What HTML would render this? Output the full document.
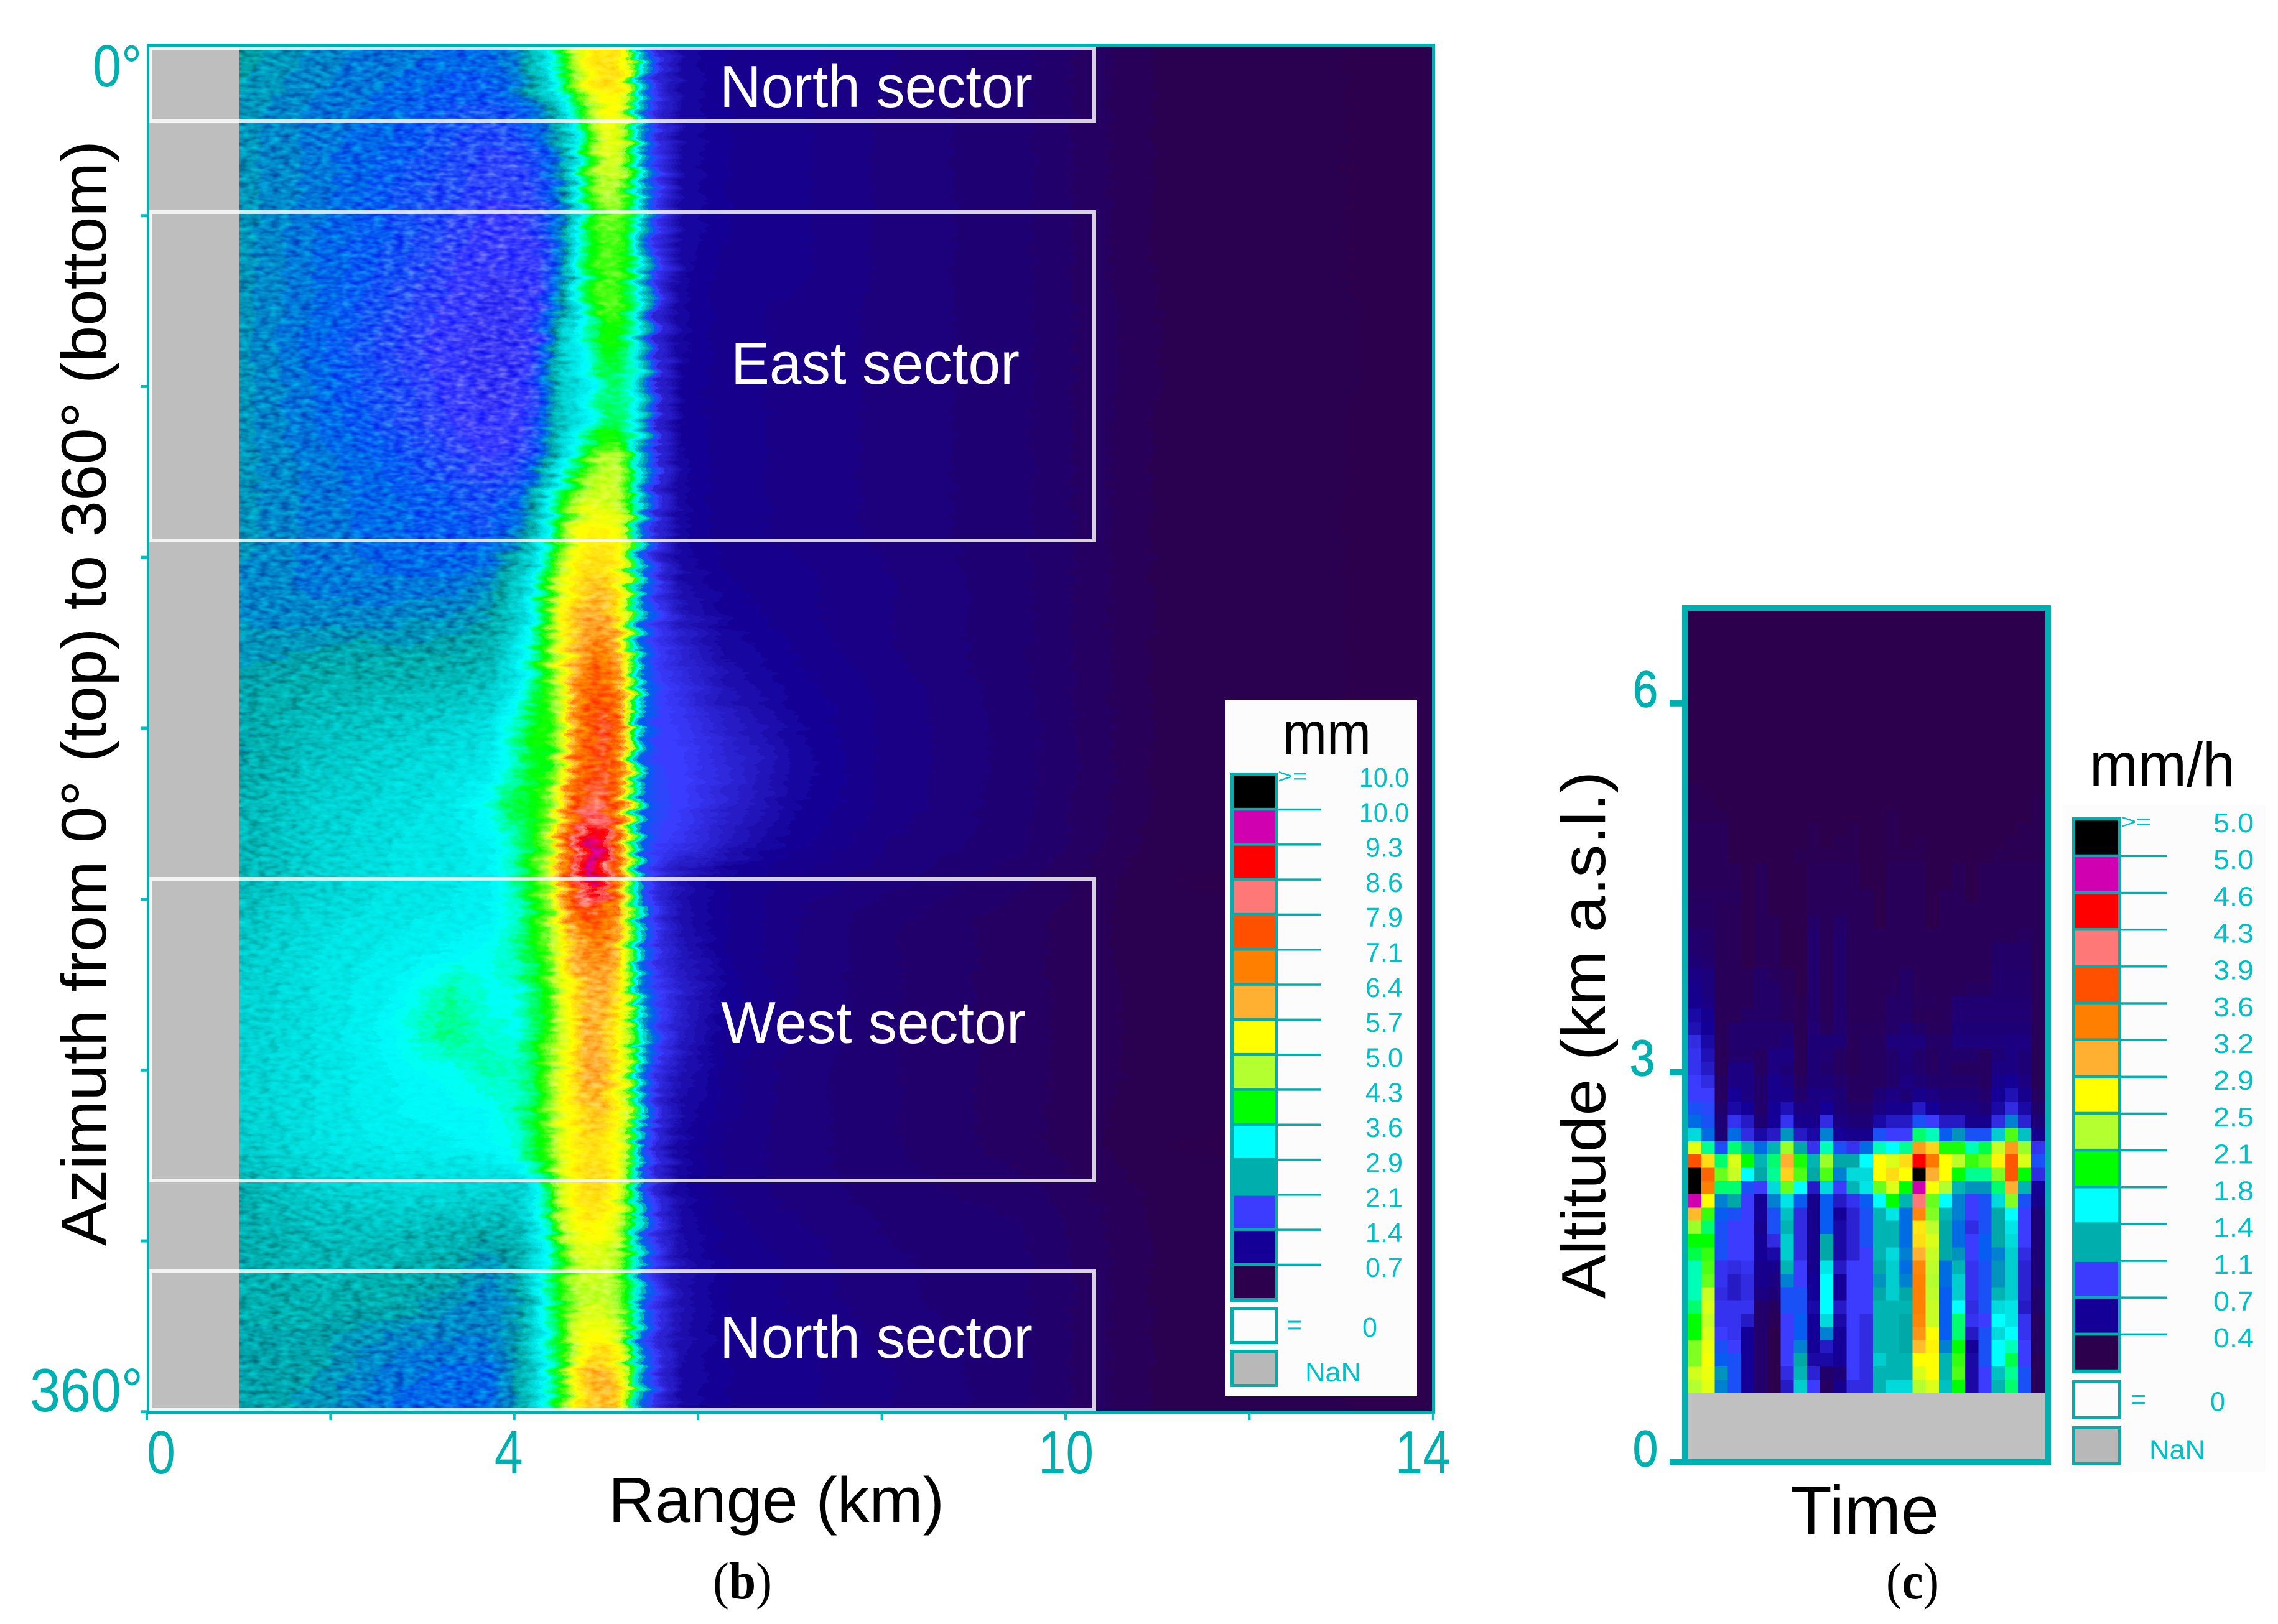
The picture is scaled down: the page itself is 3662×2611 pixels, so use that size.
<!DOCTYPE html>
<html lang="en">
<head>
<meta charset="utf-8">
<title>Rain radar azimuth-range and time-altitude plots</title>
<style>
html,body{margin:0;padding:0;background:#fff;}
svg{display:block;}
text{font-family:"Liberation Sans",sans-serif;}
.serif{font-family:"Liberation Serif",serif;}
</style>
</head>
<body>
<svg id="figure" xmlns="http://www.w3.org/2000/svg" width="3662" height="2611" viewBox="0 0 3662 2611">
<defs>
<clipPath id="plotBClip"><rect x="236" y="72" width="2068" height="2199"/></clipPath>
<filter id="radarTexture" filterUnits="userSpaceOnUse" x="200" y="30" width="2150" height="2290" color-interpolation-filters="sRGB">
<feTurbulence type="fractalNoise" baseFrequency="0.01 0.08" numOctaves="3" seed="7" result="warp"/>
<feDisplacementMap in="SourceGraphic" in2="warp" scale="40" xChannelSelector="R" yChannelSelector="G" result="jagged"/>
<feTurbulence type="fractalNoise" baseFrequency="0.06 0.14" numOctaves="2" seed="3" result="grain"/>
<feColorMatrix in="grain" type="matrix" x="200" y="30" width="810" height="2290" values="1.3 0 0 0 -0.15 1.3 0 0 0 -0.15 1.3 0 0 0 -0.15 0 0 0 0 1" result="greyGrain"/>
<feBlend in="greyGrain" in2="jagged" mode="soft-light"/>
</filter>
</defs>
<rect x="0" y="0" width="3662" height="2611" fill="#ffffff"/>
<g clip-path="url(#plotBClip)">
<g id="heatB" shape-rendering="crispEdges" filter="url(#radarTexture)"></g>
</g>
<rect x="236" y="72" width="149" height="2199" fill="#bebebe"/>
<g id="sectors" fill="none" stroke="#ffffff" stroke-opacity="0.82" stroke-width="6">
<rect x="241" y="77" width="1518" height="117"/>
<rect x="241" y="341" width="1518" height="528"/>
<rect x="241" y="1413" width="1518" height="485"/>
<rect x="241" y="2044" width="1518" height="222"/>
</g>
<text x="1157" y="172" font-size="96" fill="#fff" textLength="503" lengthAdjust="spacingAndGlyphs">North sector</text>
<text x="1175" y="617" font-size="96" fill="#fff" textLength="464" lengthAdjust="spacingAndGlyphs">East sector</text>
<text x="1159" y="1677" font-size="96" fill="#fff" textLength="490" lengthAdjust="spacingAndGlyphs">West sector</text>
<text x="1157" y="2183" font-size="96" fill="#fff" textLength="503" lengthAdjust="spacingAndGlyphs">North sector</text>
<g id="axesB"></g>
<rect x="1970" y="1125" width="308" height="1120" fill="#fcfcfc"/>
<text x="2062" y="1213" font-size="98" fill="#000" textLength="142" lengthAdjust="spacingAndGlyphs">mm</text>
<g id="legendB"></g>
<g id="heatC" shape-rendering="crispEdges"></g>
<rect x="2714" y="2240" width="573" height="106" fill="#c0c0c0"/>
<g id="axesC"></g>
<text x="3359" y="1264" font-size="100" fill="#000" textLength="234" lengthAdjust="spacingAndGlyphs">mm/h</text>
<rect x="3317" y="1294" width="325" height="1072" fill="#fcfcfc"/>
<g id="legendC"></g>
<text transform="translate(170,2003) rotate(-90)" x="0" y="0" font-size="102" fill="#000" textLength="1777" lengthAdjust="spacingAndGlyphs">Azimuth from 0° (top) to 360° (bottom)</text>
<text x="978" y="2447" font-size="103" fill="#000" textLength="540" lengthAdjust="spacingAndGlyphs">Range (km)</text>
<text transform="translate(2580,2088) rotate(-90)" x="0" y="0" font-size="100" fill="#000" textLength="848" lengthAdjust="spacingAndGlyphs">Altitude (km a.s.l.)</text>
<text x="2878" y="2466" font-size="110" fill="#000" textLength="239" lengthAdjust="spacingAndGlyphs">Time</text>
<text class="serif" x="1146" y="2570" font-size="84" fill="#000" textLength="95" lengthAdjust="spacingAndGlyphs">(<tspan font-weight="bold">b</tspan>)</text>
<text class="serif" x="3032" y="2570" font-size="84" fill="#000" textLength="85" lengthAdjust="spacingAndGlyphs">(<tspan font-weight="bold">c</tspan>)</text>
</svg>
<script>
// ---------- shared colour ramp ----------
const rampColors = [[44,0,76],[20,0,150],[60,60,255],[0,96,240],[0,168,168],[0,255,255],[0,255,0],[180,255,48],[255,255,0],[255,176,48],[255,127,0],[255,80,0],[255,120,120],[255,0,0],[208,0,176],[0,0,0]];
const rampStopsB = [0.35,1.05,1.75,2.12,2.5,3.25,3.95,4.65,5.35,6.05,6.75,7.5,8.25,8.95,9.65,10.3];
const rampStopsC = [0.2,0.55,0.9,1.07,1.25,1.6,1.95,2.3,2.7,3.05,3.4,3.75,4.1,4.45,4.8,5.2];
const legendColors = ['#000000','#d000b0','#ff0000','#ff7878','#ff5000','#ff7f00','#ffb030','#ffff00','#b4ff30','#00ff00','#00ffff','#00aeae','#3c3cff','#140096','#2c004c'];

// ---------- panel (b) data: rain depth (mm) by azimuth (rows) and range (columns) ----------
const rangeKm = [1.0,1.8,2.6,3.3,3.7,4.0,4.2,4.35,4.5,4.65,4.8,4.95,5.1,5.2,5.3,5.4,5.55,5.8,6.3,7,8,9.5,11,14];
const azimuthDeg = [0,10,20,30,40,50,60,70,80,90,100,110,120,130,140,150,160,170,180,190,200,210,220,230,240,250,260,270,280,290,300,310,320,330,340,350,360];
const depthMm = [
[2.5,2.35,2.25,2.2,2.2,2.3,2.8,3.2,3.9,5.0,5.5,5.5,5.6,5.3,3.4,2.3,1.5,1.15,1.0,.95,.85,.7,.42,.33],
[2.45,2.3,2.2,2.1,2.1,2.25,2.6,3.0,3.6,4.6,5.4,5.6,5.6,5.1,3.4,2.3,1.5,1.15,1.0,.95,.85,.7,.42,.33],
[2.4,2.25,2.15,2.0,1.95,2.0,2.15,2.3,2.7,3.3,4.4,5.2,5.2,4.6,3.4,2.3,1.55,1.15,1.0,.95,.82,.7,.42,.33],
[2.4,2.25,2.1,1.95,1.85,1.85,1.95,2.1,2.4,3.2,4.2,5.0,5.0,4.4,3.4,2.3,1.6,1.15,1.0,.95,.82,.7,.42,.33],
[2.4,2.25,2.05,1.9,1.8,1.8,1.85,2.0,2.3,3.1,4.0,4.6,4.6,4.1,3.4,2.4,1.6,1.15,1.0,.95,.82,.7,.42,.33],
[2.4,2.2,2.05,1.85,1.75,1.75,1.8,1.95,2.3,3.1,3.9,4.2,4.2,4.0,3.4,2.5,1.6,1.15,1.0,.95,.82,.7,.42,.33],
[2.4,2.2,2.0,1.8,1.72,1.72,1.75,1.95,2.3,3.1,3.8,4.2,4.2,3.9,3.4,2.6,1.6,1.1,.95,.95,.82,.7,.42,.33],
[2.4,2.2,1.95,1.75,1.7,1.7,1.75,2.0,2.5,3.1,3.7,4.2,4.2,3.8,3.4,2.6,1.5,1.1,.95,.9,.82,.7,.44,.33],
[2.4,2.15,1.9,1.72,1.7,1.7,1.8,2.2,2.9,3.1,3.4,3.9,3.9,3.6,3.3,2.6,1.5,1.1,.95,.9,.82,.7,.44,.33],
[2.4,2.2,1.95,1.75,1.7,1.72,1.85,2.3,2.8,3.0,3.2,3.6,3.6,3.5,3.3,2.6,1.5,1.05,.95,.9,.82,.7,.44,.33],
[2.4,2.2,2.0,1.8,1.72,1.75,1.9,2.3,2.8,3.0,3.3,3.7,3.7,3.5,3.2,2.5,1.5,1.05,.95,.9,.82,.7,.42,.33],
[2.4,2.25,2.1,1.9,1.8,1.85,2.05,2.5,3.0,3.5,4.3,4.8,4.7,4.2,3.3,2.4,1.5,1.1,.95,.9,.82,.7,.42,.33],
[2.4,2.25,2.15,2.05,2.0,2.1,2.6,3.2,3.8,4.6,5.1,5.0,4.9,4.3,3.3,2.3,1.5,1.1,.95,.9,.82,.7,.42,.33],
[2.4,2.25,2.15,2.05,2.05,2.3,2.8,3.3,4.3,5.3,5.5,5.5,5.4,4.8,3.3,2.2,1.5,1.1,.95,.9,.82,.7,.42,.33],
[2.35,2.25,2.2,2.2,2.3,2.7,3.1,3.9,5.0,5.5,5.7,5.7,5.5,4.8,3.3,2.2,1.55,1.15,1.0,.95,.85,.7,.42,.33],
[2.35,2.3,2.3,2.35,2.45,2.8,3.3,4.1,5.4,5.8,6.1,6.1,5.6,4.8,3.3,2.2,1.7,1.3,1.05,.95,.85,.7,.42,.33],
[2.4,2.45,2.5,2.5,2.6,3.0,3.4,4.2,5.4,6.0,6.7,6.7,6.0,5.0,3.4,2.2,1.7,1.45,1.15,1.0,.85,.7,.42,.33],
[2.5,2.6,2.65,2.7,2.8,3.1,3.6,4.2,5.0,6.5,7.3,7.3,6.8,5.3,3.5,2.2,1.75,1.6,1.25,1.05,.9,.7,.42,.33],
[2.5,2.7,2.8,2.9,3.0,3.5,4.0,4.0,4.8,6.4,7.3,7.9,7.2,5.6,3.5,2.2,1.8,1.7,1.4,1.1,.9,.72,.42,.33],
[2.5,2.75,2.9,3.0,3.05,3.4,3.9,3.9,5.0,6.8,7.4,7.7,7.0,5.4,3.4,2.1,1.8,1.75,1.5,1.15,.9,.72,.42,.33],
[2.6,2.85,2.95,3.05,3.3,3.85,3.9,4.4,5.6,7.2,7.9,8.0,7.0,5.4,3.4,2.1,1.85,1.75,1.45,1.1,.9,.7,.42,.33],
[2.6,2.85,3.0,3.05,3.15,3.4,3.9,4.6,6.4,8.4,9.6,9.2,7.2,5.2,3.4,2.1,1.8,1.65,1.3,1.05,.85,.7,.4,.33],
[2.6,2.85,3.0,3.05,3.15,3.45,4.0,4.6,6.4,8.4,9.6,8.6,7.0,5.1,3.4,2.0,1.55,1.2,1.0,.9,.8,.62,.36,.33],
[2.75,2.95,3.05,3.1,3.15,3.4,3.95,4.4,5.6,6.8,7.3,7.2,6.4,5.0,3.4,2.0,1.5,1.2,1.0,.85,.7,.55,.38,.33],
[2.8,3.0,3.1,3.2,3.3,3.45,3.85,4.3,5.3,6.0,6.5,6.5,5.9,5.0,3.5,2.2,1.6,1.3,1.0,.85,.7,.55,.38,.33],
[2.85,3.0,3.15,3.5,3.3,3.3,3.7,4.1,5.1,5.6,6.0,6.0,5.6,4.9,3.5,2.3,1.75,1.4,1.05,.85,.7,.55,.4,.33],
[2.85,3.0,3.2,3.6,3.35,3.3,3.7,4.1,4.9,5.5,6.1,5.9,5.5,4.9,3.6,2.4,1.7,1.35,1.0,.85,.7,.55,.4,.33],
[2.85,3.0,3.15,3.3,3.45,3.4,3.7,4.3,5.2,5.8,6.2,6.0,5.5,4.9,3.5,2.3,1.6,1.25,.95,.8,.7,.55,.4,.33],
[2.85,3.0,3.15,3.2,3.25,3.4,3.7,4.4,5.2,5.5,5.8,5.9,5.4,4.8,3.4,2.2,1.5,1.15,.95,.8,.7,.55,.38,.33],
[2.8,3.0,3.1,3.15,3.2,3.35,3.9,4.2,5.1,5.5,5.6,5.5,5.3,4.7,3.4,2.1,1.5,1.1,.9,.8,.7,.55,.36,.33],
[2.6,2.85,2.95,2.95,2.95,2.9,3.1,3.8,5.0,5.5,5.7,5.7,5.3,4.5,3.4,2.1,1.5,1.1,.9,.8,.72,.62,.4,.33],
[2.55,2.7,2.75,2.7,2.65,2.7,3.1,3.5,4.8,5.3,5.5,5.4,5.1,4.3,3.3,2.1,1.5,1.15,.95,.85,.75,.68,.42,.33],
[2.5,2.65,2.6,2.55,2.4,2.5,3.0,3.3,3.9,4.8,5.0,4.9,4.7,3.9,3.3,2.2,1.6,1.2,1.0,.9,.78,.7,.42,.33],
[2.55,2.6,2.55,2.4,2.3,2.4,2.9,3.5,4.1,4.7,4.8,4.8,4.5,3.9,3.3,2.2,1.6,1.2,1.0,.9,.78,.7,.42,.33],
[2.5,2.5,2.35,2.3,2.3,2.45,3.0,3.4,3.9,5.0,5.4,5.3,5.1,4.3,3.3,2.2,1.55,1.2,1.0,.95,.82,.7,.42,.33],
[2.5,2.45,2.25,2.15,2.15,2.4,2.8,3.3,4.0,5.4,5.9,6.0,5.7,4.8,3.2,2.2,1.55,1.15,1.0,.95,.85,.7,.42,.33],
[2.5,2.4,2.2,2.1,2.15,2.4,2.9,3.4,4.3,5.5,5.8,5.9,5.8,4.8,3.2,2.2,1.5,1.15,1.0,.95,.85,.7,.42,.33]
];
const xTickKm = [0,2,4,6,8,10,12,14];
const xTickLabels = {0:'0',4:'4',10:'10',14:'14'};
const yTickDeg = [45,90,135,180,225,270,315,360];
const legendBLabels = ['10.0','10.0','9.3','8.6','7.9','7.1','6.4','5.7','5.0','4.3','3.6','2.9','2.1','1.4','0.7'];

// ---------- panel (c) data: rain rate (mm/h), rows top to bottom, columns = time steps ----------
const rateMmH = [
[.2,.2,.2,.2,.2,.2,.2,.2,.2,.2,.2,.2,.2,.2,.2,.2,.2,.2,.2,.2,.2,.2,.2,.2,.2,.2,.2],
[.2,.2,.2,.2,.2,.2,.2,.2,.2,.2,.2,.2,.2,.2,.2,.2,.2,.2,.2,.2,.2,.2,.2,.2,.2,.2,.2],
[.2,.2,.2,.2,.2,.2,.2,.2,.2,.2,.2,.2,.2,.2,.2,.2,.2,.2,.2,.2,.2,.2,.2,.2,.2,.2,.2],
[.2,.2,.2,.2,.2,.2,.2,.2,.2,.2,.2,.2,.2,.2,.2,.2,.2,.2,.2,.2,.2,.2,.2,.2,.2,.2,.2],
[.2,.2,.2,.2,.2,.2,.2,.2,.2,.2,.2,.2,.2,.2,.2,.2,.2,.2,.2,.2,.2,.2,.2,.2,.2,.2,.2],
[.2,.2,.2,.2,.2,.2,.2,.2,.2,.2,.2,.2,.2,.2,.2,.2,.2,.2,.2,.2,.2,.2,.2,.2,.2,.2,.2],
[.2,.2,.2,.2,.2,.2,.2,.2,.2,.2,.2,.2,.2,.2,.2,.2,.2,.2,.2,.2,.2,.2,.2,.2,.2,.2,.2],
[.2,.2,.2,.2,.2,.2,.2,.2,.2,.2,.2,.2,.2,.2,.2,.2,.2,.2,.2,.2,.2,.2,.2,.2,.2,.2,.2],
[.2,.2,.2,.2,.2,.2,.2,.2,.2,.2,.2,.2,.2,.2,.2,.2,.2,.2,.2,.2,.2,.2,.2,.2,.2,.2,.2],
[.2,.2,.2,.2,.2,.2,.2,.2,.2,.2,.2,.2,.2,.2,.2,.2,.2,.2,.2,.2,.2,.2,.2,.2,.2,.2,.2],
[.2,.2,.2,.2,.2,.2,.2,.2,.2,.2,.2,.2,.2,.2,.2,.2,.2,.2,.2,.2,.2,.2,.2,.2,.2,.2,.2],
[.2,.2,.2,.2,.2,.2,.2,.2,.2,.2,.2,.2,.2,.2,.2,.2,.2,.2,.2,.2,.2,.2,.2,.2,.2,.2,.2],
[.2,.2,.2,.2,.2,.2,.2,.2,.2,.2,.2,.2,.2,.2,.2,.2,.2,.2,.2,.2,.2,.2,.2,.2,.2,.2,.2],
[.24,.2,.2,.2,.2,.2,.2,.2,.2,.2,.2,.2,.2,.2,.2,.2,.2,.2,.2,.2,.2,.2,.2,.2,.2,.2,.2],
[.24,.24,.2,.2,.2,.2,.2,.2,.2,.2,.2,.2,.2,.2,.2,.2,.2,.2,.2,.2,.2,.2,.2,.2,.2,.2,.24],
[.24,.24,.24,.2,.2,.2,.2,.2,.2,.2,.2,.2,.2,.2,.2,.24,.2,.2,.2,.2,.2,.2,.2,.2,.2,.2,.24],
[.26,.26,.26,.2,.2,.2,.2,.2,.2,.24,.2,.2,.24,.2,.2,.24,.2,.2,.2,.2,.2,.2,.2,.2,.2,.24,.24],
[.26,.26,.26,.2,.2,.2,.2,.2,.2,.24,.2,.24,.24,.2,.2,.24,.2,.24,.2,.2,.2,.2,.2,.2,.24,.24,.24],
[.26,.26,.26,.2,.2,.2,.2,.2,.24,.24,.24,.24,.24,.2,.2,.24,.24,.24,.2,.2,.2,.2,.2,.24,.24,.24,.24],
[.26,.26,.26,.26,.2,.26,.2,.2,.2,.26,.26,.26,.26,.2,.2,.26,.26,.26,.2,.2,.26,.2,.26,.26,.26,.26,.26],
[.26,.26,.26,.26,.2,.26,.2,.2,.2,.26,.26,.26,.26,.2,.2,.26,.26,.26,.2,.2,.26,.2,.26,.26,.26,.26,.26],
[.28,.28,.28,.28,.2,.26,.2,.2,.2,.26,.26,.26,.26,.26,.2,.26,.26,.26,.2,.26,.26,.2,.26,.26,.26,.26,.26],
[.3,.3,.26,.26,.2,.26,.2,.2,.2,.26,.26,.26,.26,.26,.2,.26,.26,.26,.2,.26,.26,.26,.26,.26,.26,.26,.26],
[.3,.3,.26,.26,.2,.26,.26,.2,.2,.33,.26,.33,.26,.26,.2,.26,.26,.26,.2,.26,.26,.26,.26,.26,.26,.26,.26],
[.36,.33,.26,.26,.2,.26,.26,.2,.2,.35,.26,.35,.26,.26,.26,.26,.26,.26,.26,.26,.26,.26,.26,.26,.26,.3,.26],
[.36,.33,.26,.26,.2,.26,.26,.2,.2,.35,.26,.35,.26,.26,.26,.26,.26,.26,.26,.26,.26,.26,.26,.33,.33,.33,.26],
[.4,.36,.26,.26,.2,.26,.26,.2,.2,.35,.26,.35,.26,.26,.26,.26,.26,.26,.26,.26,.26,.26,.26,.33,.33,.33,.26],
[.47,.42,.26,.26,.26,.33,.28,.26,.2,.35,.26,.35,.26,.26,.26,.26,.33,.26,.26,.26,.26,.26,.26,.35,.35,.35,.26],
[.5,.42,.26,.26,.26,.33,.33,.26,.2,.35,.26,.35,.26,.26,.26,.28,.33,.26,.26,.26,.26,.3,.3,.35,.35,.35,.26],
[.52,.45,.26,.26,.26,.33,.33,.28,.24,.35,.26,.35,.26,.26,.26,.33,.33,.28,.28,.26,.37,.37,.37,.37,.37,.37,.26],
[.6,.52,.26,.26,.33,.33,.33,.28,.24,.36,.26,.36,.26,.26,.26,.33,.33,.26,.26,.28,.38,.38,.38,.38,.38,.38,.26],
[.65,.55,.26,.36,.36,.36,.36,.36,.24,.38,.28,.36,.28,.28,.28,.33,.4,.33,.28,.28,.4,.4,.4,.4,.4,.4,.26],
[.8,.6,.26,.36,.36,.36,.36,.4,.24,.4,.4,.4,.26,.3,.3,.42,.42,.42,.33,.33,.42,.42,.42,.42,.45,.45,.26],
[.85,.65,.25,.35,.35,.3,.45,.45,.25,.4,.38,.3,.25,.3,.3,.35,.42,.35,.3,.35,.35,.35,.3,.4,.45,.4,.25],
[.85,.7,.25,.45,.45,.3,.45,.4,.25,.4,.35,.3,.25,.3,.3,.35,.4,.35,.3,.35,.3,.3,.3,.45,.45,.4,.25],
[.9,.8,.3,.45,.45,.35,.5,.45,.3,.4,.4,.35,.3,.3,.3,.35,.45,.4,.35,.35,.35,.35,.3,.5,.55,.45,.25],
[.9,.9,.3,.55,.45,.35,.5,.5,.35,.45,.45,.4,.3,.3,.4,.45,.4,.5,.45,.4,.4,.4,.35,.55,.65,.5,.3],
[1.0,.95,.35,.6,.55,.35,.55,.65,.45,.45,.55,.4,.35,.35,.45,.5,.5,.7,.55,.45,.45,.45,.4,.6,.8,.6,.35],
[1.1,1.0,.4,.85,.7,.4,.55,.85,.5,.5,.8,.45,.4,.4,.6,.7,.7,1.0,.9,.7,.7,.5,.5,.8,1.15,.75,.4],
[1.45,1.1,.4,1.1,.8,.6,.7,1.2,.7,.6,1.15,.55,.5,.5,1.0,.9,.9,1.8,1.7,1.05,1.2,1.0,1.0,1.4,2.1,1.35,.5],
[2.55,1.75,1.0,1.8,1.3,1.1,1.3,2.25,1.25,.85,1.7,1.0,.85,1.1,1.7,1.6,1.75,3.2,2.9,2.0,2.0,1.7,1.85,2.4,3.2,2.25,.85],
[3.75,2.85,1.8,2.5,1.95,1.3,1.8,3.05,2.0,1.3,2.25,1.25,1.25,1.6,2.7,2.5,2.85,4.45,3.45,2.7,2.35,2.05,2.15,2.75,3.7,2.5,1.0],
[5.2,3.6,2.15,2.4,1.6,1.25,1.75,2.9,2.1,1.25,2.1,1.15,1.45,1.45,2.7,2.85,2.7,5.2,3.05,2.7,1.95,1.75,1.75,2.2,3.7,1.95,.8],
[5.2,3.4,1.8,1.8,1.0,.9,1.45,2.15,1.6,.7,1.45,.9,1.3,1.5,2.15,2.5,1.95,4.8,2.65,2.3,1.3,1.2,1.2,1.8,3.05,1.3,.55],
[4.8,2.7,1.15,1.25,.9,.55,1.15,1.5,1.05,.5,1.05,.7,.85,1.05,1.6,1.95,1.3,4.1,2.15,1.6,1.15,.9,1.0,1.45,2.2,1.0,.5],
[3.0,2.05,1.05,1.0,.9,.55,1.0,1.35,.8,.5,1.05,.55,.75,1.0,1.3,1.5,1.1,3.35,2.2,1.3,1.15,.9,1.0,1.25,1.6,.9,.4],
[2.25,1.8,1.0,.9,.9,.5,1.0,1.3,.8,.5,1.05,.6,.75,1.0,1.3,1.3,1.1,2.8,2.35,1.25,1.1,.8,1.0,1.25,1.5,.9,.4],
[1.95,1.95,1.0,.9,.9,.55,.8,1.4,.8,.5,1.25,.6,.75,1.0,1.3,1.3,1.1,2.85,2.5,1.25,1.1,.9,1.05,1.25,1.45,.9,.4],
[1.85,2.05,1.0,.9,.9,.55,.6,1.4,.8,.5,1.25,.6,.75,.9,1.3,1.45,1.15,3.05,2.4,1.25,1.2,.9,1.05,1.15,1.4,.8,.4],
[1.7,2.1,.85,.8,.85,.5,.5,1.3,.9,.5,1.5,.7,.9,.9,1.25,1.4,1.1,3.35,2.35,1.1,1.3,.85,1.0,1.2,1.4,.75,.4],
[1.7,2.15,.85,.7,.8,.5,.45,1.15,.9,.55,1.6,.55,.9,.9,1.2,1.4,1.15,3.4,2.3,1.1,1.4,.85,1.0,1.2,1.4,.75,.4],
[1.7,2.4,.8,.7,.8,.45,.4,1.0,1.0,.55,1.6,.55,.9,.9,1.25,1.4,1.25,3.4,2.35,1.05,1.4,.85,1.0,1.3,1.4,.75,.35],
[1.8,2.5,.85,.85,.85,.35,.3,1.0,1.0,.6,1.6,.7,.9,.9,1.3,1.3,1.3,3.4,2.4,1.05,1.6,.8,1.0,1.45,1.5,.7,.35],
[1.95,2.4,.85,.85,.7,.35,.25,.9,1.05,.55,1.45,.6,.9,.8,1.3,1.3,1.25,3.35,2.4,1.05,1.8,.85,.9,1.6,1.5,.85,.3],
[1.95,2.5,.9,.85,.55,.35,.2,.9,1.05,.55,1.15,.55,.9,.8,1.3,1.3,1.25,3.25,2.7,1.05,1.8,.7,1.0,1.45,1.6,.85,.3],
[2.2,2.6,1.0,.9,.55,.35,.2,.9,1.15,.55,.7,.55,.9,.8,1.3,1.3,1.25,3.0,2.75,1.15,1.95,.55,1.0,1.6,1.7,.9,.3],
[2.2,2.65,1.05,1.0,.55,.35,.2,.9,1.25,.6,.6,.55,.9,.8,1.4,1.3,1.3,2.7,2.7,1.3,2.05,.6,1.0,1.6,1.85,.9,.25],
[2.45,2.6,1.2,1.0,.55,.35,.2,.8,1.3,.75,.35,.4,.9,.8,1.3,1.3,1.3,2.5,2.7,1.3,2.1,.6,.9,1.35,1.75,1.0,.25],
[2.3,2.55,1.15,1.0,.55,.35,.2,.7,1.4,.9,.3,.5,.8,.8,1.3,1.45,1.45,2.3,2.5,1.35,1.95,.6,.9,1.3,1.8,1.0,.25]
];
const altTicks = [0,3,6];
const legendCLabels = ['5.0','5.0','4.6','4.3','3.9','3.6','3.2','2.9','2.5','2.1','1.8','1.4','1.1','0.7','0.4'];

// ---------- helpers ----------
const NS = 'http://www.w3.org/2000/svg';
const TEAL = '#00b0b0';
const LEGEND_TEXT = '#00c0c8';
function mk(tag, attrs, parent) {
  const e = document.createElementNS(NS, tag);
  for (const k in attrs) e.setAttribute(k, attrs[k]);
  parent.appendChild(e);
  return e;
}
function rampColor(v, stops) {
  if (v <= stops[0]) return 'rgb(' + rampColors[0].join(',') + ')';
  for (let i = 1; i < stops.length; i++) {
    if (v <= stops[i]) {
      const t = (v - stops[i - 1]) / (stops[i] - stops[i - 1]);
      const a = rampColors[i - 1], b = rampColors[i];
      return 'rgb(' + Math.round(a[0] + (b[0] - a[0]) * t) + ',' + Math.round(a[1] + (b[1] - a[1]) * t) + ',' + Math.round(a[2] + (b[2] - a[2]) * t) + ')';
    }
  }
  return 'rgb(0,0,0)';
}
function bracket(arr, v) {
  let i = 0;
  while (i < arr.length - 2 && v > arr[i + 1]) i++;
  const t = Math.max(0, Math.min(1, (v - arr[i]) / (arr[i + 1] - arr[i])));
  return [i, t];
}

// ---------- panel (b) ----------
const xB = km => 236 + 147.7 * km;
const kmOfX = px => (px - 236) / 147.7;
const yB = deg => 72 + 6.105 * deg;
const degOfY = px => (px - 72) / 6.105;
function depthAt(deg, km) {
  const [r, rt] = bracket(azimuthDeg, deg);
  const [c, ct] = bracket(rangeKm, km);
  const top = depthMm[r][c] * (1 - ct) + depthMm[r][c + 1] * ct;
  const bot = depthMm[r + 1][c] * (1 - ct) + depthMm[r + 1][c + 1] * ct;
  return top * (1 - rt) + bot * rt;
}
const heatB = document.getElementById('heatB');
const stepY = 8, stepX = 6, startX = xB(0), endX = xB(14) + 40;
for (let py = yB(0) - 40; py < yB(360) + 40; py += stepY) {
  let runStart = startX;
  let runVal = Math.round(depthAt(degOfY(py + stepY / 2), kmOfX(startX)) / 0.08);
  for (let px = startX + stepX; px <= endX + stepX; px += stepX) {
    const val = px > endX ? null : Math.round(depthAt(degOfY(py + stepY / 2), kmOfX(px)) / 0.08);
    if (val !== runVal) {
      const cell = mk('rect', {x: runStart, y: py, width: Math.min(px, endX) - runStart + 1, height: stepY + 0.5, fill: rampColor(runVal * 0.08, rampStopsB)}, heatB);
      
      
      runStart = px;
      runVal = val;
    }
  }
}

const axesB = document.getElementById('axesB');
[[236, 70, 3.5, 2203], [2302, 70, 5, 2203], [236, 70, 2071, 5], [236, 2268, 2071, 5]].forEach(function (s) {
  const line = mk('rect', {x: s[0], y: s[1], width: s[2], height: s[3], fill: TEAL}, axesB);
  
  
});
xTickKm.forEach(function (km) {
  const t = mk('rect', {x: xB(km) - 2, y: 2271, width: 4, height: 12, fill: '#00c0c0'}, axesB);
  
  
  if (xTickLabels[km] !== undefined) {
    const s = xTickLabels[km];
    const w = s.length === 1 ? 46 : 89;
    const offs = km === 0 ? 0 : (km === 4 ? -32 : (km === 10 ? -44 : -61));
    const l = mk('text', {x: xB(km) + offs, y: 2369, 'font-size': 98, fill: TEAL, textLength: w, lengthAdjust: 'spacingAndGlyphs'}, axesB);
    l.textContent = s;
    
    
  }
});
yTickDeg.forEach(function (deg) {
  const t = mk('rect', {x: 226, y: yB(deg) - 2.5, width: 10, height: 5, fill: '#00c0c0'}, axesB);
  
  
});
const yLab0 = mk('text', {x: 149, y: 139, 'font-size': 96, fill: TEAL, textLength: 79, lengthAdjust: 'spacingAndGlyphs'}, axesB);
yLab0.textContent = '0°';


const yLab360 = mk('text', {x: 48, y: 2269, 'font-size': 98, fill: TEAL, textLength: 182, lengthAdjust: 'spacingAndGlyphs'}, axesB);
yLab360.textContent = '360°';



// ---------- legends ----------
function drawLegend(parent, cfg) {
  const frame = mk('rect', {x: cfg.ox, y: cfg.top - 5, width: cfg.ow, height: cfg.step * 15 + 7, fill: '#00aeae'}, parent);
  
  
  legendColors.forEach(function (col, k) {
    const sw = mk('rect', {x: cfg.ix, y: cfg.top + cfg.step * k, width: cfg.iw, height: cfg.step - 4.5, fill: col}, parent);
    
    
    if (k < 14) {
      const tk = mk('rect', {x: cfg.ox + cfg.ow, y: cfg.top + cfg.step * (k + 1) - 3.5, width: cfg.tick, height: 3.5, fill: '#00aeae'}, parent);
      
      
    }
  });
  cfg.labels.forEach(function (txt, k) {
    const wide = txt.length > 3;
    const lx = wide ? cfg.labelX - cfg.extra : cfg.labelX;
    const lw = wide ? cfg.labelW + cfg.extra + 10 : cfg.labelW;
    const lb = mk('text', {x: lx, y: cfg.labelY + cfg.step * k, 'font-size': 44, fill: LEGEND_TEXT, textLength: lw, lengthAdjust: 'spacingAndGlyphs'}, parent);
    lb.textContent = txt;
    
    
  });
  const ge = mk('text', {x: cfg.ox + cfg.ow, y: cfg.labelY - 6, 'font-size': 32, fill: LEGEND_TEXT, textLength: 48, lengthAdjust: 'spacingAndGlyphs'}, parent);
  ge.textContent = '>=';
  
  
  [[cfg.zeroY, '#fcfcfc'], [cfg.nanY, '#b8b8b8']].forEach(function (p) {
    const o = mk('rect', {x: cfg.ox, y: p[0], width: cfg.ow, height: cfg.boxH, fill: '#00aeae'}, parent);
    
    
    const i = mk('rect', {x: cfg.ix, y: p[0] + 5, width: cfg.iw, height: cfg.boxH - 10, fill: p[1]}, parent);
    
    
  });
  const eq = mk('text', {x: cfg.eqX, y: cfg.zeroY + cfg.boxH / 2 + 14, 'font-size': 44, fill: LEGEND_TEXT, textLength: 25, lengthAdjust: 'spacingAndGlyphs'}, parent);
  eq.textContent = '=';
  
  
  const zero = mk('text', {x: cfg.zeroX, y: cfg.zeroY + cfg.boxH / 2 + 18, 'font-size': 44, fill: LEGEND_TEXT, textLength: 24, lengthAdjust: 'spacingAndGlyphs'}, parent);
  zero.textContent = '0';
  
  
  const nan = mk('text', {x: cfg.nanX, y: cfg.nanY + cfg.boxH / 2 + 21, 'font-size': 44, fill: LEGEND_TEXT, textLength: 90, lengthAdjust: 'spacingAndGlyphs'}, parent);
  nan.textContent = 'NaN';
  
  
}
drawLegend(document.getElementById('legendB'), {
  ox: 1978, ow: 76, ix: 1983, iw: 66, top: 1247, step: 56.3, tick: 70,
  labels: legendBLabels, labelX: 2195, labelW: 60, extra: 10, labelY: 1265,
  zeroY: 2101, nanY: 2170, boxH: 60, eqX: 2068, zeroX: 2190, nanX: 2098
});
drawLegend(document.getElementById('legendC'), {
  ox: 3331, ow: 79, ix: 3336, iw: 69, top: 1319, step: 59.15, tick: 74,
  labels: legendCLabels, labelX: 3558, labelW: 65, extra: 0, labelY: 1338,
  zeroY: 2219, nanY: 2293, boxH: 63, eqX: 3425, zeroX: 3553, nanX: 3455
});

// ---------- panel (c) ----------
const xC = i => 2714 + 21.2 * i;
const yC = k => 982 + 21.32 * k;
const yAlt = km => 2317 - 197.7 * km;
const heatC = document.getElementById('heatC');
rateMmH.forEach(function (row, k) {
  row.forEach(function (v, i) {
    const cell = mk('rect', {x: xC(i), y: yC(k), width: 21.7, height: 21.8, fill: rampColor(v, rampStopsC)}, heatC);
    
    
  });
});
const axesC = document.getElementById('axesC');
[[2704, 973, 10, 1383], [3287, 973, 10, 1383], [2704, 973, 593, 9], [2684, 2346, 613, 10]].forEach(function (s) {
  const line = mk('rect', {x: s[0], y: s[1], width: s[2], height: s[3], fill: TEAL}, axesC);
  
  
});
altTicks.forEach(function (a) {
  if (a > 0) {
    const t = mk('rect', {x: 2684, y: yAlt(a) - 5, width: 20, height: 10, fill: TEAL}, axesC);
    
    
  }
  const base = a === 0 ? 2357 : yAlt(a) + 5;
  const l = mk('text', {x: a === 3 ? 2620 : 2625, y: base, 'font-size': 82, fill: TEAL, stroke: TEAL, 'stroke-width': 1.5, textLength: 40, lengthAdjust: 'spacingAndGlyphs'}, axesC);
  l.textContent = String(a);
  
  
});
</script>
</body>
</html>
